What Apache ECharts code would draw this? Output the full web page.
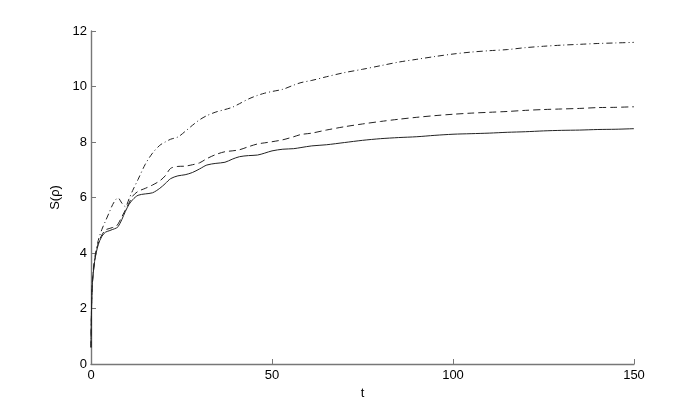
<!DOCTYPE html>
<html>
<head>
<meta charset="utf-8">
<script src="https://cdn.jsdelivr.net/npm/echarts@6/dist/echarts.min.js"></script>
<style>
  html, body { margin: 0; padding: 0; background: #fff; }
  #myChart { width: 700px; height: 410px; }
</style>
</head>
<body>
<div id="myChart"></div>
<script>
// sample times shared by the three curves
var tValues = [0, 0.3, 1, 2, 3, 4, 5, 6, 7, 7.5, 8.5, 9.5, 10.5, 11.5, 13, 15, 17, 19, 20.5, 22,
  24, 26, 28, 30, 32, 34.5, 37, 39, 41, 43.5, 46, 48, 50, 53, 56, 58, 61, 65, 70, 75,
  80, 85, 90, 95, 100, 105, 110, 115, 120, 125, 130, 135, 140, 145, 150]

var solidS = [0.6, 2.7, 3.7, 4.3, 4.6, 4.75, 4.8, 4.85, 4.9, 4.95, 5.2, 5.5, 5.75, 5.92, 6.08, 6.13, 6.17, 6.33, 6.5, 6.68,
  6.78, 6.82, 6.9, 7.03, 7.17, 7.23, 7.27, 7.38, 7.47, 7.51, 7.53, 7.6, 7.68, 7.74, 7.76, 7.8, 7.86, 7.9, 7.98, 8.06,
  8.12, 8.16, 8.19, 8.24, 8.28, 8.3, 8.32, 8.35, 8.37, 8.4, 8.42, 8.43, 8.45, 8.46, 8.48]

var dashedS = [0.6, 2.7, 3.7, 4.35, 4.65, 4.83, 4.88, 4.92, 4.97, 5.05, 5.3, 5.55, 5.8, 6.05, 6.22, 6.33, 6.45, 6.6, 6.78, 7.05,
  7.12, 7.13, 7.18, 7.25, 7.4, 7.55, 7.65, 7.68, 7.72, 7.83, 7.93, 7.97, 8.01, 8.08, 8.19, 8.27, 8.32, 8.43, 8.55, 8.65,
  8.74, 8.82, 8.89, 8.95, 9.0, 9.04, 9.07, 9.1, 9.14, 9.17, 9.19, 9.21, 9.24, 9.25, 9.27]

var dashDotS = [0.6, 2.8, 3.8, 4.45, 4.85, 5.15, 5.45, 5.75, 5.95, 5.98, 5.8, 5.67, 5.95, 6.25, 6.65, 7.2, 7.6, 7.88, 8.0, 8.1,
  8.18, 8.38, 8.6, 8.8, 8.95, 9.08, 9.17, 9.25, 9.38, 9.55, 9.68, 9.76, 9.82, 9.9, 10.05, 10.14, 10.22, 10.35, 10.5, 10.62,
  10.75, 10.88, 10.98, 11.08, 11.17, 11.24, 11.29, 11.33, 11.4, 11.45, 11.49, 11.52, 11.55, 11.57, 11.59]

var xTicks = [0, 50, 100, 150]
var yTicks = [0, 2, 4, 6, 8, 10, 12]

function pairs (ys) {
  return tValues.map(function (t, i) { return [t, ys[i]] })
}

var myChart = echarts.init(document.getElementById('myChart'))
var axisFont = { color: '#000', fontSize: 13, fontFamily: 'Liberation Sans' }

var option = {
  animation: false,
  grid: { left: 91, right: 66, top: 31, bottom: 46 },
  xAxis: {
    type: 'value',
    min: xTicks[0],
    max: xTicks[xTicks.length - 1],
    interval: 50,
    name: 't',
    nameLocation: 'middle',
    nameGap: 14,
    nameTextStyle: axisFont,
    axisLine: { lineStyle: { color: '#777', width: 1.4 } },
    axisTick: { inside: true, length: 5, lineStyle: { color: '#777' } },
    axisLabel: Object.assign({ margin: 5 }, axisFont),
    splitLine: { show: false }
  },
  yAxis: {
    type: 'value',
    min: yTicks[0],
    max: yTicks[yTicks.length - 1],
    interval: 2,
    name: 'S(ρ)',
    nameLocation: 'middle',
    nameGap: 20,
    nameTextStyle: axisFont,
    axisLine: { show: true, lineStyle: { color: '#777', width: 1.4 } },
    axisTick: { show: true, inside: true, length: 5, lineStyle: { color: '#777' } },
    axisLabel: Object.assign({ margin: 4 }, axisFont),
    splitLine: { show: false }
  },
  series: [
    {
      name: 'solid',
      type: 'line',
      smooth: 0.3,
      showSymbol: false,
      lineStyle: { color: '#222', width: 1 },
      data: pairs(solidS)
    },
    {
      name: 'dashed',
      type: 'line',
      smooth: 0.3,
      showSymbol: false,
      lineStyle: { color: '#222', width: 1, type: [7, 4] },
      data: pairs(dashedS)
    },
    {
      name: 'dashdot',
      type: 'line',
      smooth: 0.3,
      showSymbol: false,
      lineStyle: { color: '#222', width: 1, type: [6, 3, 1, 3] },
      data: pairs(dashDotS)
    }
  ]
}
myChart.setOption(option, true)
</script>
</body>
</html>
